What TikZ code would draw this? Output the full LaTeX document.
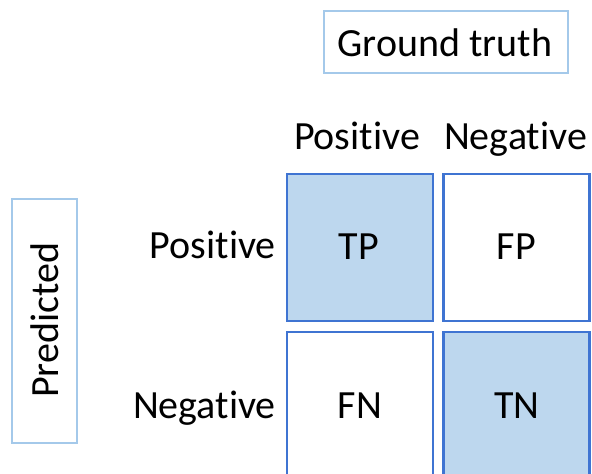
\documentclass[tikz,border=0pt]{standalone}
\usepackage{fontspec}
\setmainfont{Carlito}[Ligatures=NoCommon]
\definecolor{cellblue}{HTML}{3F74D2}
\definecolor{cellfill}{HTML}{BDD7EE}
\definecolor{lightline}{HTML}{A4C9EA}
\begin{document}
\begin{tikzpicture}[x=1pt,y=-1pt,
  every node/.style={font=\fontsize{40}{48}\selectfont, inner sep=0pt},
  cell/.style={draw=cellblue, line width=2.3pt, minimum width=146pt, minimum height=147pt},
  hit/.style={cell, fill=cellfill},
  titlebox/.style={draw=lightline, line width=1.2pt}]
\useasboundingbox (0,0) rectangle (592,474);
\clip (0,0) rectangle (592,474);
\fill[white] (0,0) rectangle (592,474);
% title boxes
\node[titlebox, minimum width=244pt, minimum height=62pt] (gt) at (446,42) {};
\node[anchor=base] (gtt) at (445,56) {Ground truth};
\node[titlebox, minimum width=65pt, minimum height=244pt] (pr) at (44.5,321) {};
\node[anchor=base, rotate=90] (prt) at (58,320.5) {Predicted};
% headers
\node[anchor=base] (hp) at (357,149) {Positive};
\node[anchor=base] (hn) at (515.5,149) {Negative};
\node[anchor=base east] (rp) at (276,258) {Positive};
\node[anchor=base east] (rn) at (276,418) {Negative};
% cells
\node[hit]  (tp) at (360,247.5) {};
\node[cell] (fp) at (516.5,247.5) {};
\node[cell] (fn) at (360,405.5) {};
\node[hit]  (tn) at (516.5,405.5) {};
\node[anchor=base] (tpt) at (359,259) {TP};
\node[anchor=base] (fpt) at (516.5,259) {FP};
\node[anchor=base] (fnt) at (360,418) {FN};
\node[anchor=base] (tnt) at (517,418) {TN};
\end{tikzpicture}
\end{document}
